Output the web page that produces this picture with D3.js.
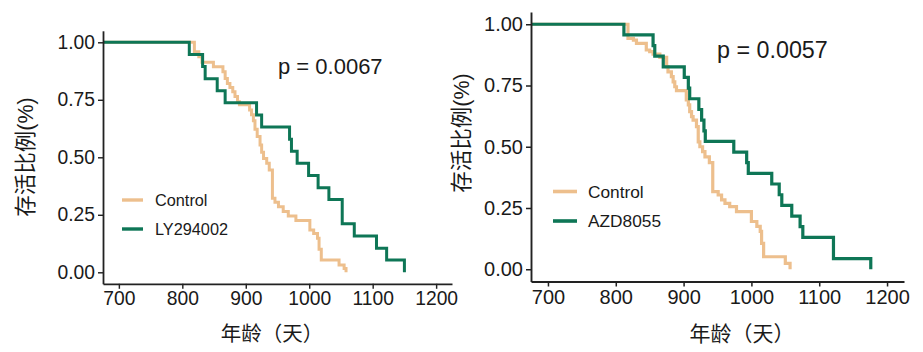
<!DOCTYPE html>
<html><head><meta charset="utf-8">
<script src="https://cdn.jsdelivr.net/npm/d3@7"></script>
<style>body{margin:0;background:#fff}svg{display:block}</style>
</head><body>
<svg id="chart" width="923" height="352"></svg>
<script>
// ---------- data ----------
const xTickValues = [700, 800, 900, 1000, 1100, 1200];
const xTickLabels = ["700", "800", "900", "1000", "1100", "1200"];
const yTickValues = [0, 0.25, 0.5, 0.75, 1];
const yTickLabels = ["0.00", "0.25", "0.50", "0.75", "1.00"];
const xTitle = "年龄（天）";
const yTitle = "存活比例(%)";
const seriesNames = ["Control", "LY294002", "AZD8055"];
const pLabels = ["p = 0.0067", "p = 0.0057"];

// Left panel: Control vs LY294002 (event time, survival after event)
const leftControlTime = [819, 826, 831, 849, 864, 867.5, 871, 875, 879.5, 883, 887, 890, 906, 909, 912, 914.5, 918, 922.5, 925, 928, 933, 937, 942, 946, 951.5, 959, 967, 979, 1001, 1007, 1013, 1015.5, 1019, 1047, 1055, 1058];
const leftControlSurv = [0.959, 0.937, 0.913, 0.894, 0.872, 0.843, 0.821, 0.804, 0.785, 0.764, 0.742, 0.728, 0.706, 0.685, 0.659, 0.622, 0.59, 0.553, 0.522, 0.495, 0.474, 0.445, 0.322, 0.305, 0.285, 0.264, 0.245, 0.225, 0.184, 0.169, 0.148, 0.1, 0.053, 0.032, 0.017, 0];
const leftLYTime = [811, 832, 836, 855, 867.5, 917, 925, 969, 972, 981, 999, 1014, 1031, 1052, 1071, 1106, 1122, 1150];
const leftLYSurv = [0.947, 0.895, 0.842, 0.789, 0.737, 0.684, 0.632, 0.579, 0.526, 0.474, 0.421, 0.368, 0.316, 0.211, 0.158, 0.105, 0.053, 0];

// Right panel: Control vs AZD8055
const rightControlTime = [818, 826, 830.5, 845, 850, 855, 865, 875, 877, 882, 884.6, 887, 889.5, 904, 907, 909, 911.7, 914, 919, 921.6, 924, 928, 931.5, 938, 943, 951, 956, 961, 968, 978, 1000, 1008, 1013, 1015, 1018, 1050, 1057];
const rightControlSurv = [0.942, 0.935, 0.922, 0.895, 0.888, 0.878, 0.865, 0.827, 0.806, 0.786, 0.765, 0.745, 0.729, 0.691, 0.671, 0.643, 0.623, 0.609, 0.582, 0.52, 0.5, 0.48, 0.459, 0.435, 0.317, 0.303, 0.283, 0.269, 0.256, 0.235, 0.195, 0.175, 0.155, 0.106, 0.051, 0.024, 0];
const rightAZDTime = [812, 855, 857.5, 870, 901, 907, 909, 922.5, 926.6, 930, 932, 974, 993, 995.4, 1030, 1041, 1044.8, 1059.5, 1071.8, 1075.8, 1121, 1176];
const rightAZDSurv = [0.957, 0.913, 0.870, 0.826, 0.783, 0.739, 0.696, 0.652, 0.609, 0.565, 0.522, 0.478, 0.435, 0.391, 0.348, 0.304, 0.261, 0.217, 0.174, 0.130, 0.043, 0];

// ---------- styles ----------
const colControl = "#EDBF8D";
const colTreat = "#0E7656";
const latin = "'Liberation Sans', Arial, 'Noto Sans CJK SC', sans-serif";
const cjk = "'Noto Sans CJK SC', 'Liberation Sans', sans-serif";
const textCol = "#1a1a1a";

const svg = d3.select("#chart");
svg.append("rect").attr("width", 923).attr("height", 352).attr("fill", "#fff");

const panels = [
  {xr: [103, 452], yr: [283.8, 30.8], tickFont: 19.3, lw: 3, axisW: 1.8,
   ctrl: [leftControlTime, leftControlSurv], trt: [leftLYTime, leftLYSurv], trtName: seriesNames[1],
   p: pLabels[0], pX: 278, pY: 74, pFont: 22,
   leg: {x1: 122, x2: 143, y: [200, 229], tx: 155, font: 16.3, lw: 3.4},
   xt: {x: 272, y: 341, font: 20.5}, yt: {x: 25, y: 157, font: 21.5}},
  {xr: [531, 904], yr: [281.5, 12], tickFont: 20, lw: 3.2, axisW: 1.9,
   ctrl: [rightControlTime, rightControlSurv], trt: [rightAZDTime, rightAZDSurv], trtName: seriesNames[2],
   p: pLabels[1], pX: 717, pY: 58, pFont: 23.3,
   leg: {x1: 553, x2: 577, y: [191.5, 221], tx: 588, font: 17.3, lw: 3.6},
   xt: {x: 742, y: 341, font: 21}, yt: {x: 461, y: 133, font: 21.5}}
];

panels.forEach(P => {
  const x = d3.scaleLinear().domain([675, 1225]).range(P.xr);
  const y = d3.scaleLinear().domain([-0.05, 1.05]).range(P.yr);
  const g = svg.append("g");

  const line = d3.line().x(d => x(d[0])).y(d => y(d[1])).curve(d3.curveStepAfter);
  const mk = (T, S) => [[675, 1]].concat(T.map((t, i) => [t, S[i]]));

  g.append("path").attr("d", line(mk(P.ctrl[0], P.ctrl[1])))
    .attr("fill", "none").attr("stroke", colControl).attr("stroke-width", P.lw).attr("stroke-linejoin", "miter");
  g.append("path").attr("d", line(mk(P.trt[0], P.trt[1])))
    .attr("fill", "none").attr("stroke", colTreat).attr("stroke-width", P.lw).attr("stroke-linejoin", "miter");

  // axes
  const xa = g.append("g").attr("transform", `translate(0,${P.yr[0]})`)
    .call(d3.axisBottom(x).tickValues(xTickValues).tickFormat((d, i) => xTickLabels[i]).tickSize(5).tickSizeOuter(0).tickPadding(3));
  const ya = g.append("g").attr("transform", `translate(${P.xr[0]},0)`)
    .call(d3.axisLeft(y).tickValues(yTickValues).tickFormat((d, i) => yTickLabels[i]).tickSize(5).tickSizeOuter(0).tickPadding(3));
  [xa, ya].forEach(a => {
    a.select(".domain").attr("stroke", "#222").attr("stroke-width", P.axisW);
    a.selectAll(".tick line").attr("stroke", "#222").attr("stroke-width", P.axisW * 0.8);
    a.selectAll("text").attr("fill", textCol).style("font-family", latin).style("font-size", P.tickFont + "px");
  });

  // p-value
  g.append("text").attr("x", P.pX).attr("y", P.pY).text(P.p)
    .style("font-family", latin).style("font-size", P.pFont + "px").attr("fill", textCol);

  // legend
  [[seriesNames[0], colControl], [P.trtName, colTreat]].forEach((s, i) => {
    g.append("line").attr("x1", P.leg.x1).attr("x2", P.leg.x2).attr("y1", P.leg.y[i]).attr("y2", P.leg.y[i])
      .attr("stroke", s[1]).attr("stroke-width", P.leg.lw);
    g.append("text").attr("x", P.leg.tx).attr("y", P.leg.y[i]).attr("dy", "0.35em").text(s[0])
      .style("font-family", latin).style("font-size", P.leg.font + "px").attr("fill", textCol);
  });

  // titles
  g.append("text").attr("x", P.xt.x).attr("y", P.xt.y).attr("text-anchor", "middle").text(xTitle)
    .style("font-family", cjk).style("font-size", P.xt.font + "px").attr("fill", textCol);
  g.append("text").attr("transform", `translate(${P.yt.x},${P.yt.y}) rotate(-90)`)
    .attr("text-anchor", "middle").attr("dy", "0.35em").text(yTitle)
    .style("font-family", latin).style("font-size", P.yt.font + "px").attr("fill", textCol);
});
</script>
</body></html>
